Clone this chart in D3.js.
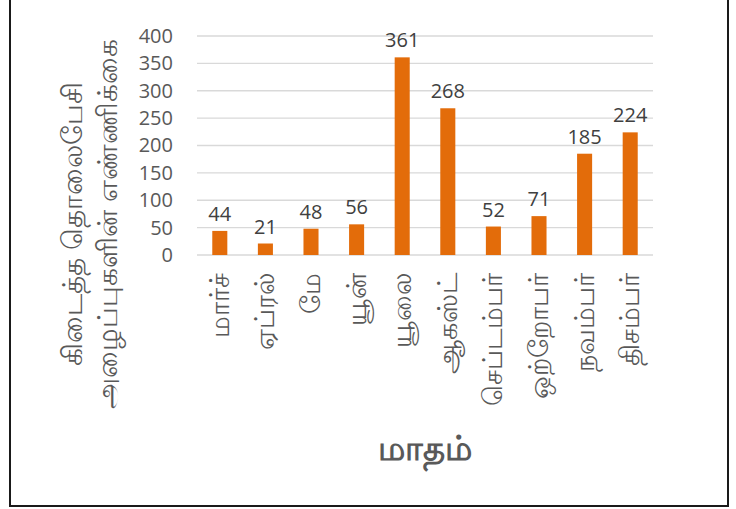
<!DOCTYPE html>
<meta charset="utf-8">
<style>
  body { margin: 0; background: #fff; }
  text { font-family: "Open Sans", "Noto Sans", sans-serif; }
</style>
<svg width="736" height="509"></svg>
<script src="https://d3js.org/d3.v7.min.js"></script>
<script>

var months = ["மார்ச்", "ஏப்ரல்", "மே", "யூன்", "யூலை", "ஆகஸ்ட்", "செப்டம்பர்", "ஒற்றோபர்", "நவம்பர்", "திசம்பர்"];
var calls = [44, 21, 48, 56, 361, 268, 52, 71, 185, 224];
var yTicks = [0, 50, 100, 150, 200, 250, 300, 350, 400];
var yTitle = ["கிடைத்த தொலைபேசி", "அழைப்புகளின் எண்ணிக்கை"];
var xTitle = "மாதம்";

var svg = d3.select("svg"),
    margin = {top: 36, right: 83, bottom: 254, left: 197},
    width = +svg.attr("width") - margin.left - margin.right,
    height = +svg.attr("height") - margin.top - margin.bottom,
    g = svg.append("g").attr("transform", "translate(" + margin.left + "," + margin.top + ")");

// outer frame
svg.append("rect")
    .attr("x", 10).attr("y", -10)
    .attr("width", 718).attr("height", 516)
    .attr("fill", "none")
    .attr("stroke", "#1a1a1a")
    .attr("stroke-width", 2);

var x = d3.scaleBand()
    .domain(months)
    .range([0, width])
    .paddingInner(0.67)
    .paddingOuter(0.335);

var y = d3.scaleLinear()
    .domain([0, 400])
    .range([height, 0]);

// gridlines
g.append("g")
  .selectAll("line")
  .data(yTicks)
  .enter().append("line")
    .attr("x1", 0)
    .attr("x2", width)
    .attr("y1", function(d) { return y(d); })
    .attr("y2", function(d) { return y(d); })
    .attr("stroke", "#d9d9d9")
    .attr("stroke-width", 1.3);

// y axis labels
var yAxis = g.append("g")
    .call(d3.axisLeft(y).tickValues(yTicks).tickSize(0).tickPadding(24));
yAxis.select(".domain").remove();
yAxis.selectAll("text")
    .attr("fill", "#595959")
    .style("font-size", "20px")
    .style("font-family", "'Open Sans', sans-serif");

// x axis labels, rotated
var xAxis = g.append("g")
    .attr("transform", "translate(0," + height + ")")
    .call(d3.axisBottom(x).tickSize(0));
xAxis.select(".domain").remove();
xAxis.selectAll("text")
    .attr("fill", "#595959")
    .style("font-size", "27px")
    .style("font-family", "'Noto Sans', sans-serif")
    .attr("text-anchor", "end")
    .attr("transform", "rotate(-90)")
    .attr("x", -18)
    .attr("y", 0)
    .attr("dy", "0.33em");

// bars
g.selectAll(".bar")
  .data(calls)
  .enter().append("rect")
    .attr("class", "bar")
    .attr("x", function(d, i) { return x(months[i]); })
    .attr("y", function(d) { return y(d); })
    .attr("width", x.bandwidth())
    .attr("height", function(d) { return height - y(d); })
    .attr("fill", "#e36c0a");

// data labels
g.selectAll(".lbl")
  .data(calls)
  .enter().append("text")
    .attr("class", "lbl")
    .attr("x", function(d, i) { return x(months[i]) + x.bandwidth() / 2; })
    .attr("y", function(d) { return y(d) - 10; })
    .attr("text-anchor", "middle")
    .attr("fill", "#404040")
    .style("font-size", "20px")
    .text(function(d) { return d; });

// y title, two lines
svg.selectAll(".ytitle")
  .data(yTitle)
  .enter().append("text")
    .attr("class", "ytitle")
    .attr("transform", function(d, i) { return "translate(" + (i === 0 ? 73 : 108) + ",224) rotate(-90)"; })
    .attr("text-anchor", "middle")
    .attr("dy", "0.33em")
    .attr("fill", "#595959")
    .style("font-size", "28px")
    .style("font-family", "'Noto Sans', sans-serif")
    .text(function(d) { return d; });

// x title
svg.append("text")
    .attr("x", margin.left + width / 2)
    .attr("y", 460)
    .attr("text-anchor", "middle")
    .attr("fill", "#595959")
    .style("font-size", "34px")
    .style("font-weight", "bold")
    .style("font-family", "'Noto Sans', sans-serif")
    .text(xTitle);

</script>
